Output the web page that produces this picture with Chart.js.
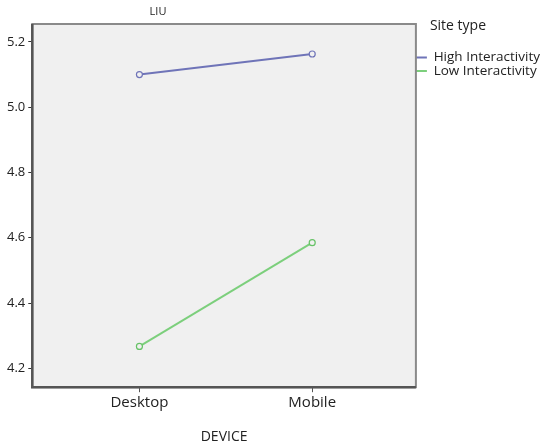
<!DOCTYPE html>
<html>
<head>
<meta charset="utf-8">
<script src="https://cdn.jsdelivr.net/npm/chart.js@4"></script>
<style>
  html, body { margin: 0; padding: 0; background: #fff; }
  #wrap { width: 550px; height: 447px; position: relative; }
</style>
</head>
<body>
<div id="wrap"><canvas id="liuChart"></canvas></div>
<script>
const devices = ['Desktop', 'Mobile'];
const highInteractivity = [5.10, 5.163];
const lowInteractivity = [4.267, 4.585];
const yTicks = [4.2, 4.4, 4.6, 4.8, 5.0, 5.2];

const font = "'Open Sans', sans-serif";

// plot background + frame, small chart title and legend heading
const plotFrame = {
  id: 'plotFrame',
  beforeDatasetsDraw(chart) {
    const { ctx, chartArea: a } = chart;
    ctx.save();
    ctx.fillStyle = '#f0f0f0';
    ctx.fillRect(a.left, a.top, a.right - a.left, a.bottom - a.top);
    ctx.strokeStyle = '#8a8a8a';
    ctx.lineWidth = 2;
    ctx.strokeRect(a.left, a.top, a.right - a.left, a.bottom - a.top);
    ctx.strokeStyle = '#555';
    ctx.lineWidth = 2.5;
    ctx.beginPath();
    ctx.moveTo(a.left, a.top);
    ctx.lineTo(a.left, a.bottom);
    ctx.lineTo(a.right, a.bottom);
    ctx.stroke();
    ctx.restore();
  },
  afterDraw(chart) {
    const { ctx, chartArea: a } = chart;
    ctx.save();
    ctx.fillStyle = '#222';
    ctx.textBaseline = 'middle';
    ctx.font = "11px " + font;
    ctx.textAlign = 'center';
    ctx.fillText('LIU', 158, 12);
    ctx.font = "14px " + font;
    ctx.textAlign = 'left';
    ctx.fillText('Site type', a.right + 14, 26);
    ctx.restore();
  }
};

const pts = arr => arr.map((v, i) => ({ x: i, y: v }));

new Chart(document.getElementById('liuChart'), {
  type: 'line',
  data: {
    datasets: [
      {
        label: 'High Interactivity',
        data: pts(highInteractivity),
        borderColor: '#6f74b8',
        backgroundColor: '#6f74b8',
        fill: false,
        borderWidth: 2,
        pointRadius: 3,
        pointBorderWidth: 1.2,
        pointBackgroundColor: '#f0f0f0',
        pointBorderColor: '#6f74b8'
      },
      {
        label: 'Low Interactivity',
        data: pts(lowInteractivity),
        borderColor: '#7ccf7c',
        backgroundColor: '#7ccf7c',
        fill: false,
        borderWidth: 2,
        pointRadius: 3,
        pointBorderWidth: 1.2,
        pointBackgroundColor: '#f0f0f0',
        pointBorderColor: '#66c266'
      }
    ]
  },
  options: {
    responsive: true,
    maintainAspectRatio: false,
    animation: false,
    layout: { padding: { top: 24, left: 4, right: 0, bottom: 2 } },
    plugins: {
      tooltip: { enabled: false },
      legend: {
        position: 'right',
        align: 'start',
        // heading drawn by plotFrame; this only reserves its space
        title: {
          display: true,
          text: '',
          font: { family: font, size: 14, lineHeight: 1.2 },
          padding: { top: 0, bottom: 10 }
        },
        labels: {
          boxWidth: 11,
          boxHeight: 0,
          padding: 0,
          color: '#222',
          font: { family: font, size: 13.5, lineHeight: 1 }
        }
      }
    },
    scales: {
      x: {
        type: 'linear',
        min: -0.62,
        max: 1.60,
        afterBuildTicks: axis => { axis.ticks = devices.map((d, i) => ({ value: i })); },
        grid: { drawOnChartArea: false, color: '#555', tickLength: 5, drawTicks: true },
        border: { display: false },
        ticks: {
          callback: v => devices[v],
          color: '#222',
          font: { family: font, size: 15 },
          padding: 2,
          maxRotation: 0
        },
        title: {
          display: true,
          text: 'DEVICE',
          color: '#222',
          font: { family: font, size: 14 },
          padding: { top: 14, bottom: 0 }
        }
      },
      y: {
        min: 4.142,
        max: 5.255,
        afterBuildTicks: axis => { axis.ticks = yTicks.map(v => ({ value: v })); },
        grid: { drawOnChartArea: false, color: '#333', tickLength: 4 },
        border: { display: false },
        ticks: {
          callback: v => v.toFixed(1),
          color: '#222',
          font: { family: font, size: 13 },
          padding: 3
        }
      }
    }
  },
  plugins: [plotFrame]
});
</script>
</body>
</html>
